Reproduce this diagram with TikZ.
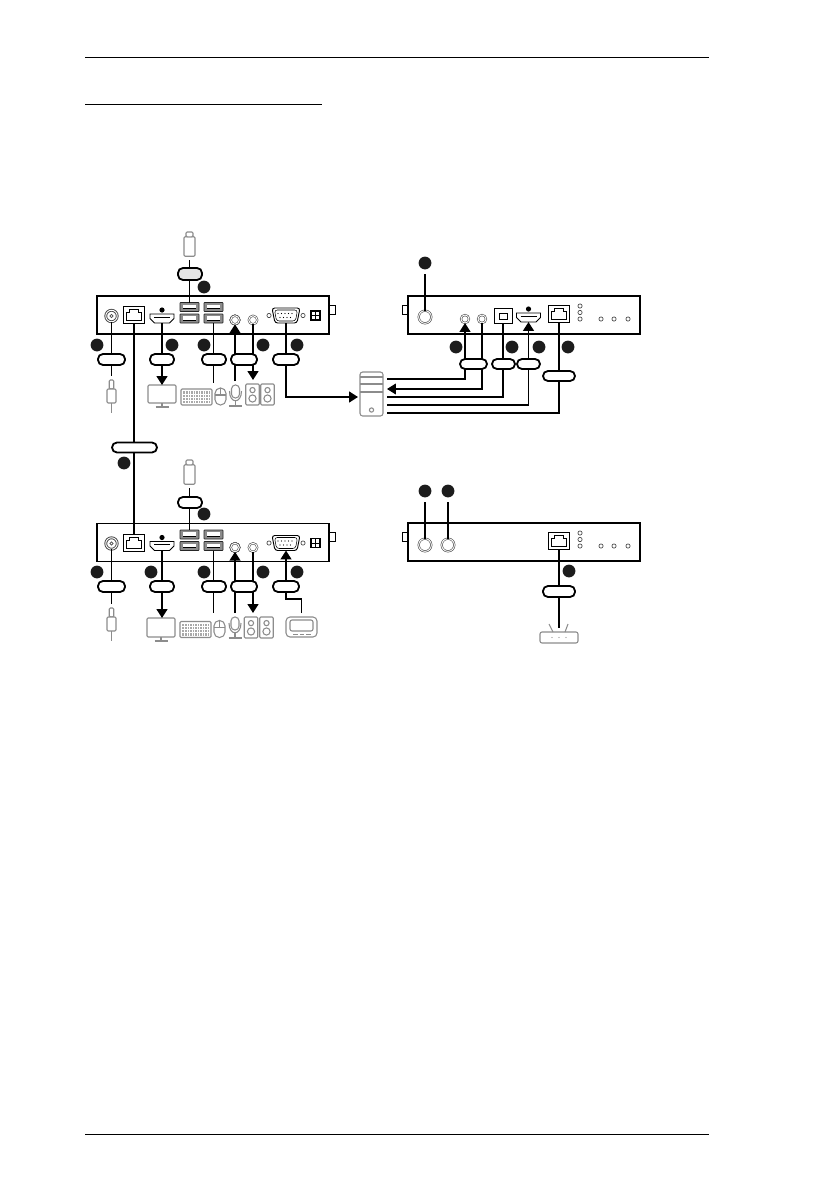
\documentclass[tikz,border=0pt]{standalone}
\usepackage{xcolor}
\usepackage{tikz}
\usetikzlibrary{arrows.meta}

\definecolor{devgray}{gray}{0.55}
\definecolor{dotblack}{gray}{0.11}

\tikzset{
  px/.style 2 args={minimum width=#1*0.75pt,minimum height=#2*0.75pt,inner sep=0pt,outer sep=0pt},
  panel/.style={draw=black,line width=1.25pt,fill=white},
  portbox/.style={draw=black,line width=0.75pt,fill=white},
  portline/.style={draw=black,line width=0.6pt},
  jack/.style={circle,draw=black!70,fill=white,double,double distance=0.7pt,line width=0.45pt,inner sep=0pt,outer sep=0pt},
  ledmark/.style={circle,draw=black!80,fill=white,line width=0.45pt,minimum size=3.2pt,inner sep=0pt},
  callout/.style={circle,fill=dotblack,minimum size=9.6pt,inner sep=0pt},
  pill/.style={draw=black,line width=1.35pt,fill=white,rounded corners=3.7pt},
  cable/.style={draw=black,line width=1.35pt},
  cablethin/.style={draw=black,line width=0.85pt},
  tipped/.style={-{Triangle[length=6.6pt,width=8pt]}},
  device/.style={draw=devgray,line width=0.8pt,rounded corners=0.8pt,fill=white},
  devline/.style={draw=devgray,line width=0.8pt},
}

% connector icons, drawn around (x,y)
\newcommand{\rjport}[3]{%
  \node[portbox,px={21.5}{17}] (#1) at (#2,#3) {};
  \draw[portline,shift={(#2,#3)}] (-7.5,5.5) -- (-7.5,-2.5) -- (-4.5,-2.5) -- (-4.5,-5.5)
    -- (4.5,-5.5) -- (4.5,-2.5) -- (7.5,-2.5) -- (7.5,5.5) -- cycle;
}
\newcommand{\hdmiport}[3]{%
  \node[px={24}{9}] (#1) at (#2,#3) {};
  \draw[portline,fill=white,shift={(#2,#3)}] (-12,-4.5) -- (12,-4.5) -- (12,0) -- (7.5,4.5)
    -- (-7.5,4.5) -- (-12,0) -- cycle;
  \draw[draw=black,line width=0.9pt,shift={(#2,#3)}] (-8,-1.2) -- (8,-1.2);
  \fill[black] (#2,#3-8.5) circle (2.6*0.75pt);
}
\newcommand{\usbport}[3]{%
  \node[draw=black!85,fill=black!45,line width=0.6pt,rounded corners=0.5pt,px={19}{9}] (#1) at (#2,#3) {};
  \fill[white,shift={(#2,#3)}] (-6.5,-2.5) rectangle (6.5,1.5);
  \draw[black,line width=0.4pt,shift={(#2,#3)}] (-6.5,1.5) -- (6.5,1.5);
}
\newcommand{\usbstick}[3]{%
  \node[device,px={11}{19.5}] (#1) at (#2,#3+14.5) {};
  \draw[device] (#2-3.5,#3+4.8) rectangle (#2+3.5,#3);
}
\newcommand{\plugicon}[3]{%
  \node[device,px={4.5}{9}] (#1) at (#2,#3+4.5) {};
  \draw[device] (#2-4.5,#3+9) rectangle (#2+4.5,#3+23);
  \draw[devline] (#2,#3+23) -- (#2,#3+33);
}
\newcommand{\monitoricon}[4]{%
  \node[device,px={28}{#4}] (#1) at (#2,#3+#4/2) {};
  \draw[devline] (#2,#3+#4) -- (#2,#3+#4+4);
  \draw[devline] (#2-6.5,#3+#4+4) -- (#2+6.5,#3+#4+4);
}
\newcommand{\keyboardicon}[3]{%
  \node[device,px={31}{16}] (#1) at (#2,#3) {};
  \fill[devgray!75,shift={(#2,#3)}] (-13.5,-6) rectangle (13.5,6);
  \foreach \ky in {-3,0,3} \draw[white,line width=0.35pt,shift={(#2,#3)}] (-13.5,\ky) -- (13.5,\ky);
  \foreach \kx in {-11,-8.5,...,11.5} \draw[white,line width=0.35pt,shift={(#2,#3)}] (\kx,-6) -- (\kx,6);
}
\newcommand{\mouseicon}[3]{%
  \node[device,rounded corners=4pt,px={11}{17}] (#1) at (#2,#3) {};
  \draw[devline,shift={(#2,#3)}] (-5.5,-1.5) -- (5.5,-1.5) (0,-8.5) -- (0,-1.5);
}
\newcommand{\micicon}[3]{%
  \node[device,rounded corners=2.9pt,px={8}{13}] (#1) at (#2,#3+6.5) {};
  \draw[devline,shift={(#2,#3)}] (-6,6) .. controls (-6,19) and (6,19) .. (6,6);
  \draw[devline,shift={(#2,#3)}] (0,16) -- (0,21) (-6.5,21) -- (6.5,21);
}
\newcommand{\speakericon}[4]{%
  \node[device,px={13.5}{#4}] (#1) at (#2,#3+#4/2) {};
  \draw[devline] (#2,#3+#4*0.29) circle (2.6*0.75pt);
  \draw[devline] (#2,#3+#4*0.69) circle (3.6*0.75pt);
}

\begin{document}
\begin{tikzpicture}[x=0.75pt,y=-0.75pt]
  \useasboundingbox (0,0) rectangle (822,1192);
  % --- page rules ---
  \draw[black,line width=0.75pt] (85,57.5) -- (709,57.5);
  \draw[black,line width=0.75pt] (85,104) -- (322,104);
  \draw[black,line width=0.75pt] (85,1134.5) -- (709,1134.5);

  % --- the two front panels ---
  \foreach \pre/\dy in {a/0,c/227.5}{
    \begin{scope}[shift={(0,\dy)}]
      \node[portbox,px={6}{9}] (\pre-knob) at (332,309.5) {};
      \node[panel,px={232}{38}] (\pre-box) at (213,315) {};
      \node[jack,minimum size=8.6pt,line width=0.7pt] (\pre-power) at (111.5,316) {};
      \draw[black!70,line width=0.5pt] (\pre-power) circle (1.2pt);
      \rjport{\pre-rj}{134.2}{315}
      \hdmiport{\pre-hdmi}{162}{318.5}
      \foreach \n/\ux/\uy in {1/189.5/307,2/189.5/318.5,3/213.5/307,4/213.5/318.5} \usbport{\pre-usb\n}{\ux}{\uy}
      \node[jack,minimum size=6.4pt] (\pre-audl) at (235,320) {};
      \node[jack,minimum size=6.4pt] (\pre-audr) at (253,320) {};
      % vga with its two screws
      \node[px={28}{15}] (\pre-vga) at (286,315.5) {};
      \draw[portline,line width=0.7pt,rounded corners=2pt] (272,308) -- (300,308) -- (297,323) -- (275,323) -- cycle;
      \draw[portline,line width=0.4pt,rounded corners=2pt] (274.5,310) -- (297.5,310) -- (295.5,321) -- (276.5,321) -- cycle;
      \foreach \vx in {278,281.5,...,295} \fill[black] (\vx,313.5) circle (0.45pt);
      \foreach \vx in {280,283.5,...,293} \fill[black] (\vx,317.5) circle (0.45pt);
      \node[ledmark] (\pre-screwl) at (269,315.5) {};
      \node[ledmark] (\pre-screwr) at (303,315.5) {};
      \node[draw=black,line width=0.8pt,fill=white,px={9}{9}] (\pre-dip) at (315.5,315.5) {};
      \draw[black,line width=0.7pt] (315.5,311) -- (315.5,320) (311,315.5) -- (320,315.5);
    \end{scope}
  }

  % --- the two rear panels ---
  \foreach \pre/\dy in {b/0,d/227}{
    \begin{scope}[shift={(0,\dy)}]
      \node[portbox,px={5}{9}] (\pre-knob) at (405,309.5) {};
      \node[panel,px={232}{38}] (\pre-box) at (524,315) {};
      \foreach \lx/\ly in {580/306,580/312.5,580/319,601/319,614/319,628/319} \node[ledmark] at (\lx,\ly) {};
    \end{scope}
  }
  \node[jack,minimum size=9.5pt] (b-ant) at (425,317) {};
  \node[jack,minimum size=6pt] (b-audl) at (465,319) {};
  \node[jack,minimum size=6pt] (b-audr) at (482,319) {};
  \node[portbox,px={18}{15}] (b-usb) at (503,315.5) {};
  \draw[portline] (499,313) rectangle (507,319);
  \hdmiport{b-hdmi}{528.5}{317.5}
  \rjport{b-rj}{559}{313.5}
  \node[jack,minimum size=9.5pt] (d-antl) at (425,545) {};
  \node[jack,minimum size=9.5pt] (d-antr) at (448,545) {};
  \rjport{d-rj}{559}{540.5}

  % --- peripherals, top row ---
  \usbstick{a-stick}{189.5}{232}
  \plugicon{a-plug}{111.5}{380}
  \monitoricon{a-mon}{162}{385}{18}
  \keyboardicon{a-keys}{196.5}{397}
  \mouseicon{a-mouse}{220.5}{396.5}
  \micicon{a-mic}{235.5}{385}
  \speakericon{a-spkl}{252.5}{384}{21}
  \speakericon{a-spkr}{267.5}{384}{21}
  % computer
  \node[device,rounded corners=2pt,px={23}{44}] (pc) at (371.5,394) {};
  \draw[devline] (360,377) -- (383,377) (360,384) -- (383,384) (360,392) -- (383,392);
  \draw[devline] (371.5,410) circle (1.6pt);

  % --- peripherals, bottom row ---
  \usbstick{c-stick}{189.5}{460}
  \plugicon{c-plug}{111.5}{608}
  \monitoricon{c-mon}{161}{618}{19}
  \keyboardicon{c-keys}{195.5}{629.5}
  \mouseicon{c-mouse}{219.5}{629}
  \micicon{c-mic}{235}{617}
  \speakericon{c-spkl}{251}{617}{21}
  \speakericon{c-spkr}{266.5}{617}{21}
  % console
  \node[device,rounded corners=3pt,px={31}{20}] (c-console) at (301.5,627) {};
  \draw[devline,rounded corners=1.5pt] (290,620) rectangle (313,631);
  \draw[devline,line width=0.5pt] (293,634) -- (298,634) (300,634) -- (304,634) (306,634) -- (311,634);
  % router
  \node[device,rounded corners=1.5pt,px={38}{11}] (d-router) at (559,637.5) {};
  \draw[devline] (553,632) -- (549,624) (565,632) -- (568,624);
  \foreach \rx in {552,559,566} \fill[devgray] (\rx,637.5) circle (0.5pt);

  % --- free ends ---
  \coordinate (a-keyend) at (213.5,383);
  \coordinate (c-keyend) at (213.5,613);
  \coordinate (pc-in) at (358,397);
  \coordinate (c-bend) at (286,599);
  \foreach \n/\ly in {1/379,2/389,3/397,4/405,5/413} \coordinate (pc-out\n) at (387,\ly);

  % --- cables around the panels ---
  \draw[cable,shorten <=3pt] (a-stick.south) -- (a-usb1.north);
  \draw[cable,shorten <=3pt] (c-stick.south) -- (c-usb1.north);
  \draw[cablethin,shorten >=3pt] (a-power.south) -- (a-plug.north);
  \draw[cablethin,shorten >=3pt] (c-power.south) -- (c-plug.north);
  \draw[cable] (a-rj.south) -- (c-rj.north);
  \draw[cable,tipped] (a-hdmi.south) -- (a-hdmi.south |- a-mon.north);
  \draw[cable,tipped] (c-hdmi.south) -- (c-hdmi.south |- c-mon.north);
  \draw[cable] (a-usb4.south) -- (a-keyend);
  \draw[cable] (c-usb4.south) -- (c-keyend);
  \draw[cable,tipped,shorten <=3pt] (a-audl |- a-mic.north) -- (a-audl.south);
  \draw[cable,tipped,shorten <=3pt] (c-audl |- c-mic.north) -- (c-audl.south);
  \draw[cable,tipped,shorten >=3pt] (a-audr.south) -- (a-audr |- a-spkl.north);
  \draw[cable,tipped,shorten >=3pt] (c-audr.south) -- (c-audr |- c-spkl.north);
  \draw[cable,tipped] (a-vga.south) |- (pc-in);
  \draw[cable,tipped,shorten <=3pt] (c-console.north) |- (c-bend) -- (c-vga.south);
  % computer to the rear panel
  \draw[cable,tipped] (pc-out1) -| (b-audl.south);
  \draw[cablethin,tipped] (b-audr.south) |- (pc-out2);
  \draw[cable] (pc-out3) -| (b-usb.south);
  \draw[cable,tipped] (pc-out4) -| (b-hdmi.south);
  \draw[cable] (pc-out5) -| (b-rj.south);
  \draw[cable,shorten >=3pt] (d-rj.south) -- (d-rj.south |- d-router.north);

  % --- pills over the cables ---
  \foreach \pre/\py in {a/359.5,c/586.5}{
    \foreach \lab/\px/\pw in {power/111.5/27,hdmi/162/24,keys/214/24,aud/244/26,vga/286/26} \node[pill,px={\pw}{11}] (\pre-pill\lab) at (\px,\py) {};
  }
  \node[pill,fill=black!10,px={24}{12}] (a-pillusb) at (190,274) {};
  \node[pill,px={24}{11}] (c-pillusb) at (190,502.5) {};
  \node[pill,px={45}{10}] (pillrj) at (134.5,447.5) {};
  \node[pill,px={27}{10}] (b-pillaud) at (473.5,364) {};
  \node[pill,px={23}{10}] (b-pillusb) at (503.5,364) {};
  \node[pill,px={23}{10}] (b-pillhdmi) at (528.5,364) {};
  \node[pill,px={32}{10}] (b-pillrj) at (559,376) {};
  \node[pill,px={32}{11}] (d-pillrj) at (559,591.5) {};

  % --- round marks ---
  \foreach \lab/\cx/\cy in {a1/97/345,a2/172/345,a3/204/345,a4/263/345,a5/297/345,a6/204/287,
    c1/97/572,c2/151/572,c3/204/572,c4/263/572,c5/297/572,c6/204/514,rj/124/463,
    b1/425/263,b2/456/347,b3/512/347,b4/539/347,b5/568/347,
    d1/425/491,d2/448/491,d3/569/571} \node[callout] (mark\lab) at (\cx,\cy) {};
  \coordinate (b-antend) at (425,274);
  \coordinate (d-antlend) at (425,502);
  \coordinate (d-antrend) at (448,502);
  \draw[cable] (b-antend) -- (b-ant.north);
  \draw[cable] (d-antlend) -- (d-antl.north);
  \draw[cable] (d-antrend) -- (d-antr.north);
\end{tikzpicture}
\end{document}
